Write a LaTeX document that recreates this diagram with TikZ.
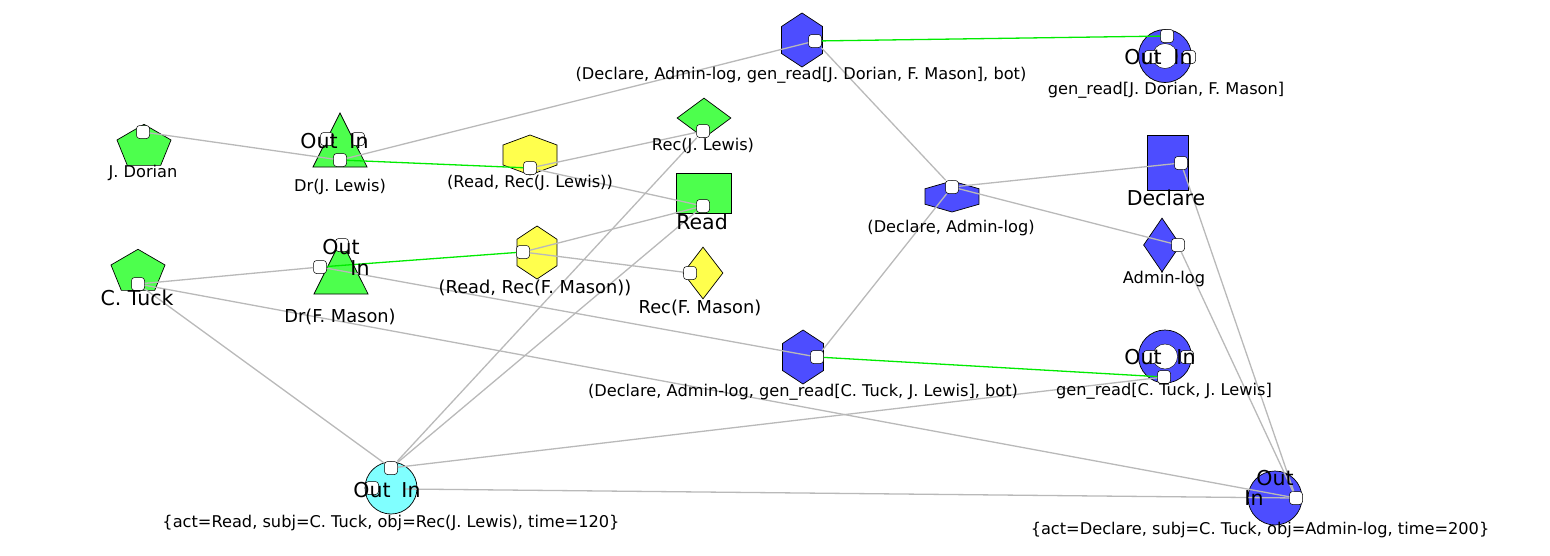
\documentclass[tikz,border=0pt]{standalone}
\usepackage{fontspec}
\setmainfont{DejaVu Sans}
\usetikzlibrary{shapes.geometric}

\definecolor{gfill}{RGB}{77,255,77}
\definecolor{yfill}{RGB}{255,255,77}
\definecolor{bfill}{RGB}{77,77,255}
\definecolor{cfill}{RGB}{128,255,255}
\definecolor{linkgray}{RGB}{185,185,185}
\definecolor{flowgreen}{RGB}{0,235,0}

\tikzstyle{pent}=[regular polygon, regular polygon sides=5, draw, fill=gfill, inner sep=0pt, minimum size=56.8pt, yscale=0.8]
\tikzstyle{tri}=[regular polygon, regular polygon sides=3, draw, fill=gfill, inner sep=0pt, minimum size=62.4pt, yscale=1.154]
\tikzstyle{hex}=[regular polygon, regular polygon sides=6, shape border rotate=90, draw, inner sep=0pt]
\tikzstyle{dia}=[diamond, draw, inner sep=0pt]
\tikzstyle{box}=[rectangle, draw, inner sep=0pt]
\tikzstyle{ring}=[circle, draw, fill=bfill, inner sep=0pt, minimum size=53pt, path picture={\filldraw[fill=white, draw=black, line width=0.4pt] (path picture bounding box.center) circle (12.5pt);}]
\tikzstyle{event}=[circle, draw, inner sep=0pt]
\tikzstyle{port}=[rectangle, draw, fill=white, rounded corners=3pt, minimum size=13pt, inner sep=0pt, line width=0.5pt]
\tikzstyle{link}=[draw=linkgray, line width=1.3pt]
\tikzstyle{flow}=[draw=flowgreen, line width=1.3pt]
\tikzstyle{lbl}=[font=\fontsize{16.2}{19}\selectfont, inner sep=0pt]
\tikzstyle{lblm}=[font=\fontsize{17.8}{21}\selectfont, inner sep=0pt]
\tikzstyle{big}=[font=\fontsize{20.5}{24}\selectfont, inner sep=0pt]

\begin{document}
\begin{tikzpicture}[x=1pt, y=-1pt, line width=0.7pt]
            \useasboundingbox (0,0) rectangle (1550,555);
            \node[pent] (JD) at (144,147) {};
            \node[pent] (CT) at (138,272) {};
            \node[tri] (DrJL) at (340,149) {};
            \node[tri] (DrFM) at (341,276) {};
            \node[hex, fill=yfill, minimum size=40pt, xscale=1.559] (RdJL) at (530,155) {};
            \node[hex, fill=yfill, minimum size=53pt, xscale=0.871] (RdFM) at (537,252.5) {};
            \node[dia, fill=gfill, minimum width=54pt, minimum height=40pt] (RecJL) at (704,118) {};
            \node[box, fill=gfill, minimum width=55pt, minimum height=40pt] (Read) at (703.5,193) {};
            \node[dia, fill=yfill, minimum width=40pt, minimum height=52pt] (RecFM) at (703,273) {};
            \node[hex, fill=bfill, minimum size=54pt, xscale=0.877] (DcJD) at (802,40) {};
            \node[hex, fill=bfill, minimum size=31pt, xscale=2.01] (DcAL) at (952,196.5) {};
            \node[hex, fill=bfill, minimum size=54pt, xscale=0.877] (DcCT) at (803,357) {};
            \node[ring] (GrJD) at (1165,56) {};
            \node[ring] (GrCT) at (1165,356.5) {};
            \node[box, fill=bfill, minimum width=41pt, minimum height=55pt] (Decl) at (1167.5,162.5) {};
            \node[dia, fill=bfill, minimum width=37pt, minimum height=54pt] (Adm) at (1162,245) {};
            \node[event, fill=cfill, minimum size=52pt] (EvR) at (391,488) {};
            \node[event, fill=bfill, minimum size=54pt] (EvD) at (1275,498) {};

            \node[port] (pJD) at (143,132) {};
            \node[port] (pCT) at (138,284) {};
            \node[port] (pDrJL) at (340,160) {};
            \node[port] (pDrJLo) at (327,139) {};
            \node[port] (pDrJLi) at (358,139) {};
            \node[port] (pDrFM) at (320,267) {};
            \node[port] (pDrFMo) at (342,245) {};
            \node[port] (pRdJL) at (530,168) {};
            \node[port] (pRdFM) at (523,252) {};
            \node[port] (pRecJL) at (703,131) {};
            \node[port] (pRead) at (703,206) {};
            \node[port] (pRecFM) at (690,273) {};
            \node[port] (pDcJD) at (815,41) {};
            \node[port] (pGrJD) at (1167,36) {};
            \node[port] (pGrJDo) at (1151,57) {};
            \node[port] (pGrJDi) at (1189,57) {};
            \node[port] (pDecl) at (1181,163) {};
            \node[port] (pDcAL) at (952,187) {};
            \node[port] (pAdm) at (1178,245) {};
            \node[port] (pDcCT) at (817,357) {};
            \node[port] (pGrCT) at (1164,377) {};
            \node[port] (pGrCTo) at (1150,357) {};
            \node[port] (pGrCTi) at (1187,357) {};
            \node[port] (pEvR) at (391,468) {};
            \node[port] (pEvRo) at (372,488) {};
            \node[port] (pEvD) at (1296,498) {};
            \coordinate (cEvRi) at (405,489);

            \draw (pJD) edge[link] (pDrJL);
            \draw (pDrJL) edge[link] (pDcJD);
            \draw (pRdJL) edge[link] (pRecJL);
            \draw (pRdJL) edge[link] (pRead);
            \draw (pRdFM) edge[link] (pRead);
            \draw (pRdFM) edge[link] (pRecFM);
            \draw (pCT) edge[link] (pDrFM);
            \draw (pCT) edge[link] (pEvD);
            \draw (pDrFM) edge[link] (pDcCT);
            \draw (pDcJD) edge[link] (pDcAL);
            \draw (pDcCT) edge[link] (pDcAL);
            \draw (pDcAL) edge[link] (pDecl);
            \draw (pDcAL) edge[link] (pAdm);
            \draw (pDecl) edge[link] (pEvD);
            \draw (pAdm) edge[link] (pEvD);
            \draw (pEvR) edge[link] (pRecJL);
            \draw (pEvR) edge[link] (pRead);
            \draw (pEvR) edge[link] (pCT);
            \draw (pEvR) edge[link] (pGrCT);
            \draw (cEvRi) edge[link] (pEvD);
            \draw (pDrJL) edge[flow] (pRdJL);
            \draw (pDrFM) edge[flow] (pRdFM);
            \draw (pDcJD) edge[flow] (pGrJD);
            \draw (pDcCT) edge[flow] (pGrCT);

            \node[lbl] (tJD) at (143,173) {J. Dorian};
            \node[big] (tCT) at (137,298) {C. Tuck};
            \node[lbl] (tDrJL) at (340,187) {Dr(J. Lewis)};
            \node[big] (oDrJL) at (319,141) {Out};
            \node[big] (iDrJL) at (359,141) {In};
            \node[lblm] (tDrFM) at (340,317) {Dr(F. Mason)};
            \node[big] (oDrFM) at (341,247) {Out};
            \node[big] (iDrFM) at (360,268) {In};
            \node[lbl] (tRdJL) at (530,183) {(Read, Rec(J. Lewis))};
            \node[lblm] (tRdFM) at (535,288) {(Read, Rec(F. Mason))};
            \node[lbl] (tRecJL) at (703,146) {Rec(J. Lewis)};
            \node[big] (tRead) at (702,222) {Read};
            \node[lblm] (tRecFM) at (700,308) {Rec(F. Mason)};
            \node[lbl] (tDcJD) at (801,75) {(Declare, Admin-log, gen\_read[J. Dorian, F. Mason], bot)};
            \node[lbl] (tGrJD) at (1166,90) {gen\_read[J. Dorian, F. Mason]};
            \node[big] (oGrJD) at (1143,57) {Out};
            \node[big] (iGrJD) at (1183,57) {In};
            \node[big] (tDecl) at (1166,198) {Declare};
            \node[lbl] (tDcAL) at (951,228) {(Declare, Admin-log)};
            \node[lbl] (tAdm) at (1164,279) {Admin-log};
            \node[lbl] (tDcCT) at (803,392) {(Declare, Admin-log, gen\_read[C. Tuck, J. Lewis], bot)};
            \node[lbl] (tGrCT) at (1164,391) {gen\_read[C. Tuck, J. Lewis]};
            \node[big] (oGrCT) at (1143,357) {Out};
            \node[big] (iGrCT) at (1186,357) {In};
            \node[lbl] (tEvR) at (391,523) {\{act=Read, subj=C. Tuck, obj=Rec(J. Lewis), time=120\}};
            \node[big] (oEvR) at (372,490) {Out};
            \node[big] (iEvR) at (411,490) {In};
            \node[lbl] (tEvD) at (1260,530) {\{act=Declare, subj=C. Tuck, obj=Admin-log, time=200\}};
            \node[big] (oEvD) at (1275,478) {Out};
            \node[big] (iEvD) at (1254,498) {In};
        \end{tikzpicture}
\end{document}
